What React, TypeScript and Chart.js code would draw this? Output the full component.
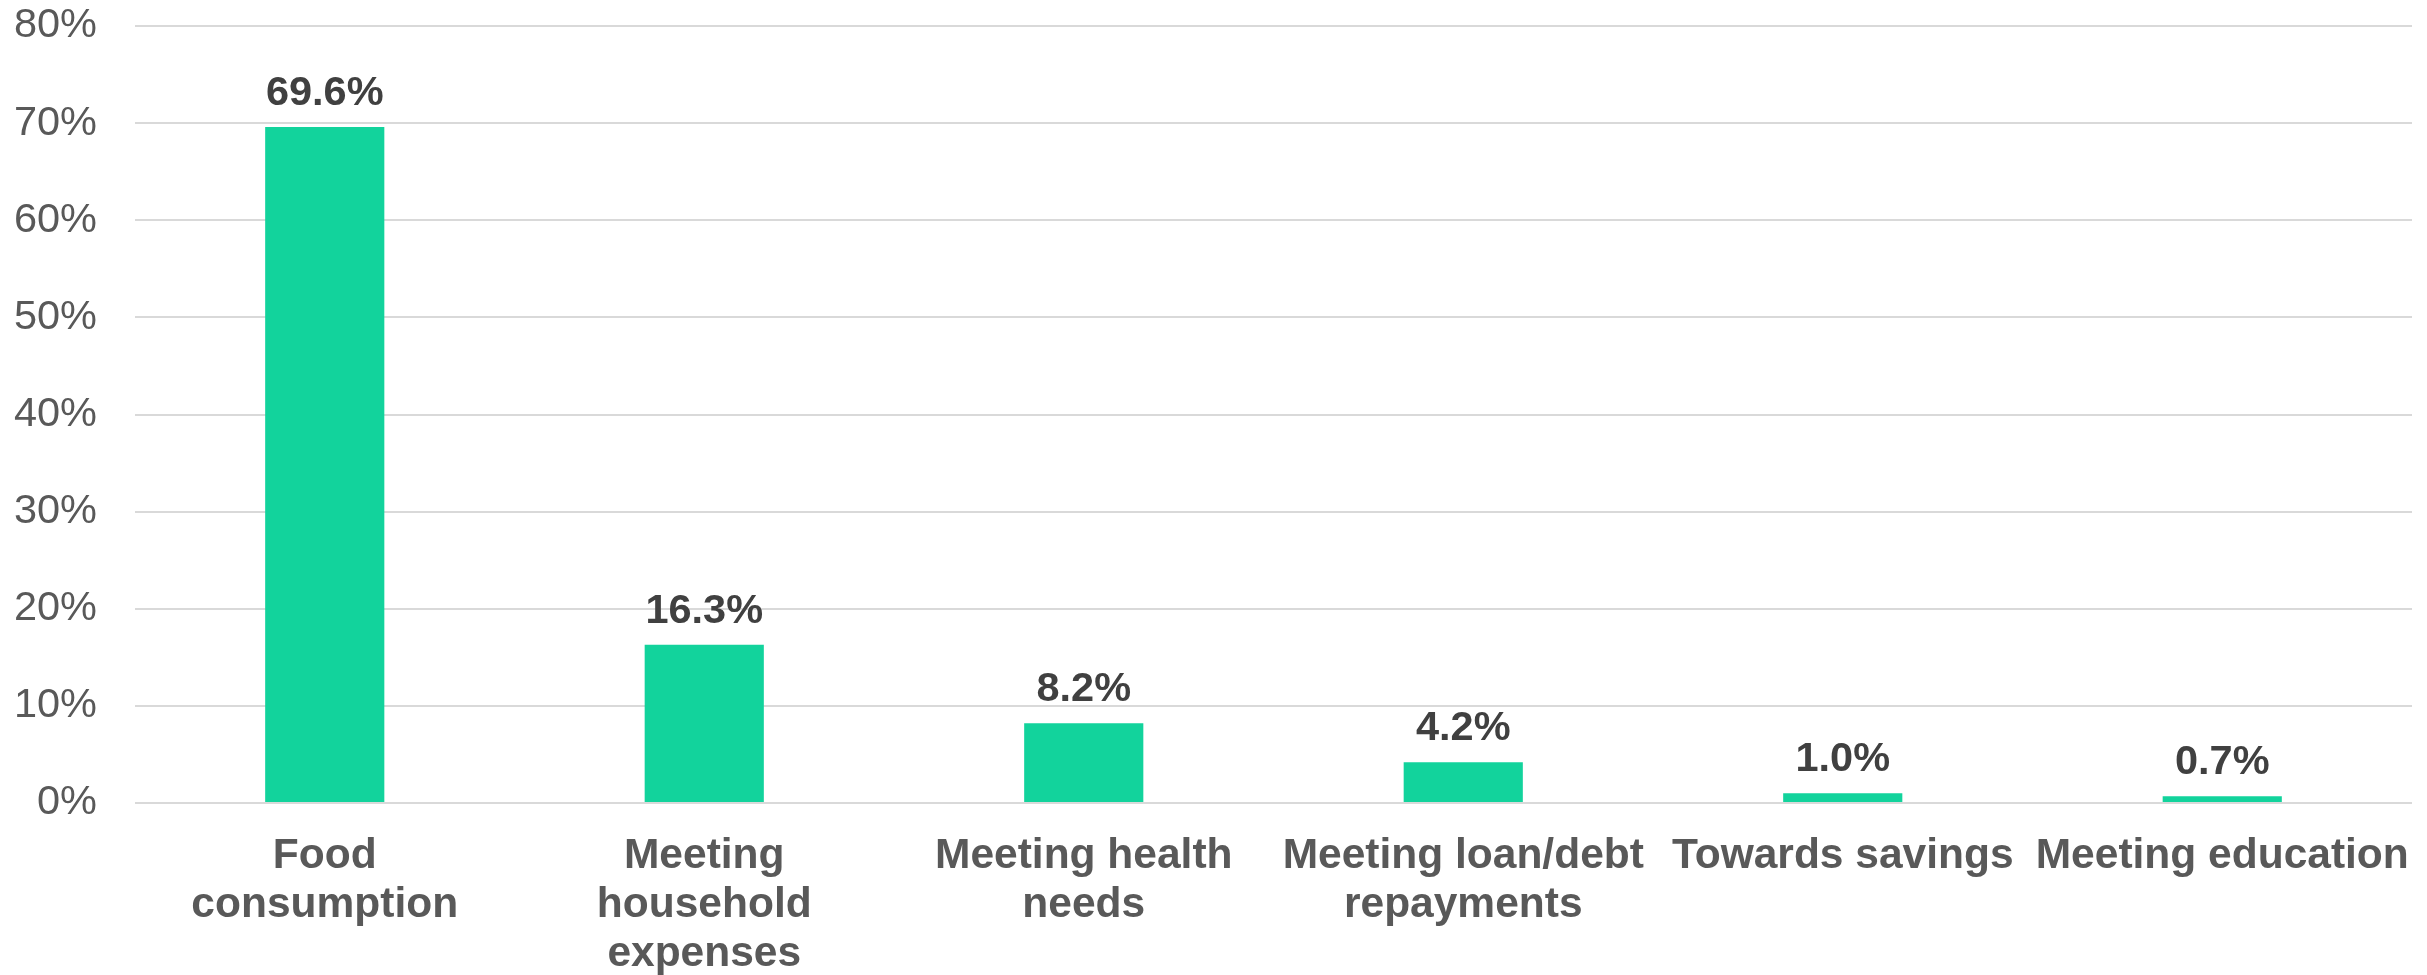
import React, { useEffect, useRef } from "react";
import { Chart, registerables } from "chart.js";

Chart.register(...registerables);

const categories: string[][] = [
  ["Food", "consumption"],
  ["Meeting", "household", "expenses"],
  ["Meeting health", "needs"],
  ["Meeting loan/debt", "repayments"],
  ["Towards savings"],
  ["Meeting education"],
];
const values: number[] = [69.6, 16.3, 8.2, 4.2, 1.0, 0.7];
const yMin = 0;
const yMax = 80;
const yStep = 10;

const FONT = "'Liberation Sans', Arial, sans-serif";

const valueLabelPlugin = {
  id: "valueLabels",
  afterDatasetsDraw(chart: any) {
    const ctx = chart.ctx;
    const meta = chart.getDatasetMeta(0);
    ctx.save();
    ctx.font = `bold 41.5px ${FONT}`;
    ctx.fillStyle = "#404040";
    ctx.textAlign = "center";
    ctx.textBaseline = "alphabetic";
    meta.data.forEach((bar: any, i: number) => {
      ctx.fillText(values[i].toFixed(1) + "%", bar.x, bar.y - 22);
    });
    ctx.restore();
  },
};

export default function App() {
  const ref = useRef<HTMLCanvasElement | null>(null);
  useEffect(() => {
    if (!ref.current) return;
    const chart = new Chart(ref.current, {
      type: "bar",
      data: {
        labels: categories,
        datasets: [
          {
            data: values,
            backgroundColor: "#12D39C",
            borderWidth: 0,
            categoryPercentage: 1,
            barPercentage: 0.314,
          },
        ],
      },
      options: {
        animation: false,
        responsive: false,
        maintainAspectRatio: false,
        layout: { padding: { top: 26, right: 15, left: 0, bottom: 0 } },
        plugins: {
          legend: { display: false },
          tooltip: { enabled: false },
        },
        scales: {
          x: {
            grid: { display: false, drawTicks: false },
            border: { display: false },
            afterFit: (scale: any) => {
              scale.height = 172;
              scale.paddingLeft = 0;
              scale.paddingRight = 0;
            },
            ticks: {
              color: "#595959",
              font: { family: FONT, size: 42.5, weight: "bold", lineHeight: "49px" },
              padding: 29,
              maxRotation: 0,
              autoSkip: false,
            },
          },
          y: {
            min: yMin,
            max: yMax,
            grid: { color: "#d9d9d9", lineWidth: 2, drawTicks: false },
            border: { display: false },
            afterFit: (scale: any) => {
              scale.width = 135;
              scale.paddingTop = 0;
              scale.paddingBottom = 0;
            },
            ticks: {
              stepSize: yStep,
              color: "#595959",
              font: { family: FONT, size: 41.5 },
              padding: 38,
              callback: (v: any) => v + "%",
            },
          },
        },
      },
      plugins: [valueLabelPlugin],
    });
    return () => chart.destroy();
  }, []);
  return (
    <div style={{ position: "fixed", left: 0, top: 0, width: 2427, height: 975, background: "#fff" }}>
      <canvas ref={ref} width={2427} height={975} style={{ width: 2427, height: 975 }} />
    </div>
  );
}
